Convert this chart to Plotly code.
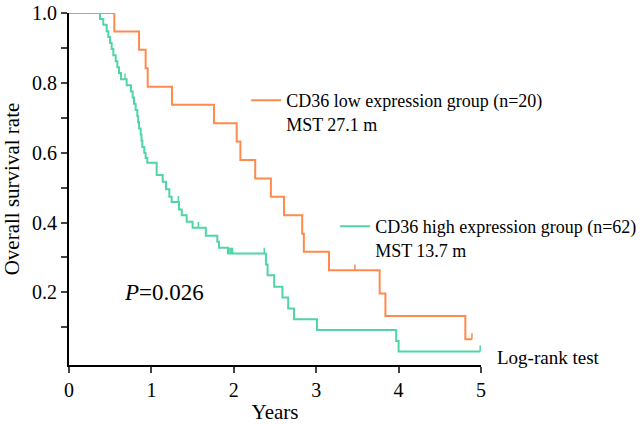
import plotly.graph_objects as go

# ---- data ----
low_times = [0, 0.55, 0.85, 0.93, 0.955, 1.25, 1.76, 2.035, 2.08, 2.26, 2.45, 2.61, 2.83, 2.85, 3.155, 3.77, 3.84, 4.81, 4.89]
low_surv = [1.0, 0.947, 0.895, 0.842, 0.789, 0.737, 0.684, 0.632, 0.579, 0.526, 0.474, 0.421, 0.368, 0.316, 0.263, 0.197, 0.132, 0.066, 0.066]
low_cens_t = [3.47, 4.89]
low_cens_s = [0.263, 0.066]

high_times = [0, 0.376, 0.416, 0.457, 0.477, 0.498, 0.518, 0.538, 0.567, 0.587,
              0.607, 0.631, 0.70, 0.752, 0.773, 0.789, 0.809, 0.829, 0.839, 0.85,
              0.87, 0.88, 0.89, 0.914, 0.93, 0.95, 1.064, 1.137, 1.177, 1.218,
              1.246, 1.335, 1.368, 1.428, 1.50, 1.66, 1.80, 1.82, 1.93, 2.39,
              2.41, 2.49, 2.59, 2.66, 2.73, 3.01, 3.97, 4.0, 4.99]
high_surv = [1.0, 0.983, 0.966, 0.948, 0.931, 0.914, 0.897, 0.879, 0.862, 0.845,
             0.828, 0.810, 0.793, 0.775, 0.758, 0.740, 0.722, 0.705, 0.687, 0.669,
             0.652, 0.634, 0.616, 0.599, 0.585, 0.571, 0.536, 0.517, 0.495, 0.474,
             0.459, 0.437, 0.421, 0.402, 0.385, 0.362, 0.345, 0.328, 0.311, 0.28,
             0.249, 0.216, 0.185, 0.154, 0.123, 0.092, 0.061, 0.031, 0.031]
high_cens_t = [0.052, 0.073, 0.255, 0.37, 0.68, 1.327, 1.57, 1.94, 1.955, 1.97, 1.985, 2.37, 4.99]
high_cens_s = [1.0, 1.0, 1.0, 1.0, 0.810, 0.459, 0.385, 0.311, 0.311, 0.311, 0.311, 0.311, 0.031]

low_name = "CD36 low expression group (n=20)<br>MST 27.1 m"
high_name = "CD36 high expression group (n=62)<br>MST 13.7 m"
p_text = "<i>P</i>=0.026"
test_text = "Log-rank test"

x_ticks = [0, 1, 2, 3, 4, 5]
y_ticks = [0.1, 0.2, 0.3, 0.4, 0.5, 0.6, 0.7, 0.8, 0.9, 1.0]
y_ticktext = ["", "0.2", "", "0.4", "", "0.6", "", "0.8", "", "1.0"]

ORANGE = "#FF8A4C"
GREEN = "#4FD6A4"
FONT = "Liberation Serif"
TICK_H = 0.017


def censor_xy(ts, ss):
    xs, ys = [], []
    for t, s in zip(ts, ss):
        xs += [t, t, None]
        ys += [s, s + TICK_H, None]
    return xs, ys


fig = go.Figure()
fig.add_trace(go.Scatter(x=low_times, y=low_surv, mode="lines", line=dict(color=ORANGE, width=2, shape="hv"),
                         name=low_name, legend="legend"))
cx, cy = censor_xy(low_cens_t, low_cens_s)
fig.add_trace(go.Scatter(x=cx, y=cy, mode="lines", line=dict(color=ORANGE, width=1.5), showlegend=False, hoverinfo="skip"))
fig.add_trace(go.Scatter(x=high_times, y=high_surv, mode="lines", line=dict(color=GREEN, width=2, shape="hv"),
                         name=high_name, legend="legend2"))
cx, cy = censor_xy(high_cens_t, high_cens_s)
fig.add_trace(go.Scatter(x=cx, y=cy, mode="lines", line=dict(color=GREEN, width=1.5), showlegend=False, hoverinfo="skip"))

fig.add_annotation(x=0.64, y=0.2, xref="x", yref="y", text=p_text, showarrow=False, xanchor="left", yanchor="middle",
                   font=dict(family=FONT, size=23, color="black"))
fig.add_annotation(x=1.034, y=0.014, xref="paper", yref="y", text=test_text, showarrow=False, xanchor="left",
                   yanchor="middle", font=dict(family=FONT, size=19, color="black"))

fig.update_layout(
    width=640, height=424, autosize=False,
    margin=dict(l=69, r=159, t=13, b=59, autoexpand=False),
    paper_bgcolor="white", plot_bgcolor="white",
    font=dict(family=FONT, size=20, color="black"),
    legend=dict(x=0.43, y=0.804, xanchor="left", yanchor="top", valign="top", bgcolor="rgba(0,0,0,0)",
                font=dict(family=FONT, size=18), itemwidth=30, tracegroupgap=0),
    legend2=dict(x=0.646, y=0.446, xanchor="left", yanchor="top", valign="top", bgcolor="rgba(0,0,0,0)",
                 font=dict(family=FONT, size=18), itemwidth=30, tracegroupgap=0),
)
fig.update_xaxes(range=[0, 5], tickvals=x_ticks, ticks="outside", ticklen=6, tickwidth=2, showline=True, linewidth=2,
                 linecolor="black", showgrid=False, zeroline=False, automargin=False,
                 title=dict(text="Years", standoff=4, font=dict(family=FONT, size=21)),
                 tickfont=dict(family=FONT, size=20))
fig.update_yaxes(range=[-0.008, 1.0], tickvals=y_ticks, ticktext=y_ticktext, ticks="outside", ticklen=6, tickwidth=2,
                 showline=True, linewidth=2, linecolor="black", showgrid=False, zeroline=False, automargin=False,
                 title=dict(text="Overall survival rate", standoff=8, font=dict(family=FONT, size=21)),
                 tickfont=dict(family=FONT, size=20))

fig.write_html("out.html", config={"responsive": False, "displayModeBar": False},
               post_script="document.body.style.margin='0';document.body.style.overflow='hidden';")
